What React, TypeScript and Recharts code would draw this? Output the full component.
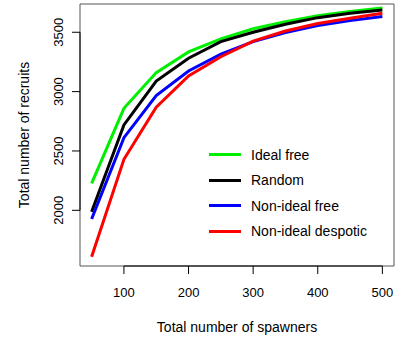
import { LineChart, Line, XAxis, YAxis, ReferenceArea, ReferenceLine } from 'recharts';

const spawners = [50, 100, 150, 200, 250, 300, 350, 400, 450, 500];
const idealFree = [2227, 2859, 3160, 3334, 3444, 3529, 3588, 3640, 3674, 3705];
const random = [1988, 2719, 3089, 3281, 3421, 3500, 3567, 3623, 3660, 3688];
const nonIdealFree = [1927, 2612, 2966, 3174, 3315, 3421, 3497, 3556, 3598, 3632];
const nonIdealDespotic = [1609, 2430, 2868, 3132, 3294, 3426, 3511, 3574, 3618, 3660];

const xTicks = [100, 200, 300, 400, 500];
const yTicks = [2000, 2500, 3000, 3500];

const X_DOMAIN: [number, number] = [32, 518];
const Y_DOMAIN: [number, number] = [1531, 3738];

const FONT = '"Liberation Sans", Arial, sans-serif';

const series = [
  { key: 'idealFree', name: 'Ideal free', color: '#00ee00' },
  { key: 'random', name: 'Random', color: '#000000' },
  { key: 'nonIdealFree', name: 'Non-ideal free', color: '#0000ff' },
  { key: 'nonIdealDespotic', name: 'Non-ideal despotic', color: '#ff0000' },
];

const data = spawners.map((s, i) => ({
  spawners: s,
  idealFree: idealFree[i],
  random: random[i],
  nonIdealFree: nonIdealFree[i],
  nonIdealDespotic: nonIdealDespotic[i],
}));

function RotatedTick({ x, y, payload }: { x?: number; y?: number; payload?: { value: number } }) {
  const bx = (x ?? 0) - 7;
  return (
    <text
      x={bx}
      y={y}
      transform={`rotate(-90, ${bx}, ${y})`}
      textAnchor="middle"
      fontSize={13}
      fontFamily={FONT}
      fill="#000"
    >
      {payload?.value}
    </text>
  );
}

function LegendBox() {
  return (
    <div
      style={{
        position: 'absolute',
        left: 209,
        top: 142,
        fontFamily: FONT,
        fontSize: 14,
        color: '#000',
        pointerEvents: 'none',
      }}
    >
      {series.map((s) => (
        <div key={s.key} style={{ display: 'flex', alignItems: 'center', height: 25.5, whiteSpace: 'nowrap' }}>
          <div style={{ width: 32, height: 3, background: s.color, marginRight: 10 }} />
          <span>{s.name}</span>
        </div>
      ))}
    </div>
  );
}

export default function App() {
  return (
    <div style={{ position: 'absolute', left: 0, top: 0, width: 407, height: 338, background: '#fff' }}>
      <LineChart width={407} height={338} data={data} margin={{ top: 4, right: 13, bottom: 0, left: 40 }}>
        <XAxis
          dataKey="spawners"
          type="number"
          domain={X_DOMAIN}
          allowDataOverflow
          ticks={xTicks}
          interval={0}
          height={72}
          axisLine={false}
          tickSize={8}
          tickMargin={14}
          tickLine={{ stroke: '#000' }}
          tick={{ fill: '#000', fontSize: 13, fontFamily: FONT }}
          label={{
            value: 'Total number of spawners',
            position: 'insideBottom',
            offset: 6,
            fill: '#000',
            fontSize: 14,
            fontFamily: FONT,
          }}
        />
        <YAxis
          type="number"
          domain={Y_DOMAIN}
          allowDataOverflow
          ticks={yTicks}
          interval={0}
          width={40}
          axisLine={false}
          tickSize={8}
          tickLine={{ stroke: '#000' }}
          tick={<RotatedTick />}
          label={(props: { viewBox?: { y: number; height: number } }) => {
            const cy = (props.viewBox?.y ?? 4) + (props.viewBox?.height ?? 262) / 2;
            return (
              <text
                x={29}
                y={cy}
                transform={`rotate(-90, 29, ${cy})`}
                textAnchor="middle"
                fontSize={14}
                fontFamily={FONT}
                fill="#000"
              >
                Total number of recruits
              </text>
            );
          }}
        />
        <ReferenceArea
          x1={X_DOMAIN[0]}
          x2={X_DOMAIN[1]}
          y1={Y_DOMAIN[0]}
          y2={Y_DOMAIN[1]}
          fill="none"
          stroke="#555"
          strokeWidth={1}
          ifOverflow="visible"
        />
        <ReferenceLine
          segment={[{ x: X_DOMAIN[0], y: 2000 }, { x: X_DOMAIN[0], y: 3500 }]}
          stroke="#000"
          ifOverflow="visible"
        />
        <ReferenceLine
          segment={[{ x: 100, y: Y_DOMAIN[0] }, { x: 500, y: Y_DOMAIN[0] }]}
          stroke="#000"
          ifOverflow="visible"
        />
        {series.map((s) => (
          <Line
            key={s.key}
            dataKey={s.key}
            name={s.name}
            stroke={s.color}
            strokeWidth={3}
            dot={false}
            activeDot={false}
            type="linear"
            isAnimationActive={false}
          />
        ))}
      </LineChart>
      <LegendBox />
    </div>
  );
}
